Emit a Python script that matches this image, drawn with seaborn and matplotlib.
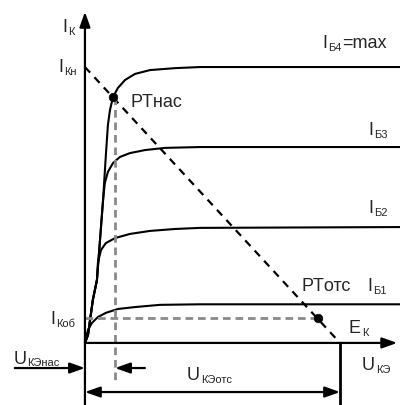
import matplotlib
matplotlib.use("Agg")
import matplotlib.pyplot as plt
import seaborn as sns
import pandas as pd

# Output characteristics of a transistor switch: U_KE on x, I_K on y
u_b4 = [0, 0.12, 0.31, 0.47, 0.59, 0.71, 0.82, 0.90, 0.98, 1.10, 1.29, 1.57, 1.96, 2.55, 3.53, 4.51, 12.4]
i_b4 = [0, 0.29, 1.56, 2.28, 3.73, 5.18, 6.81, 7.90, 8.44, 8.91, 9.24, 9.53, 9.75, 9.89, 9.96, 10.0, 10.0]

u_b3 = [0, 0.12, 0.31, 0.47, 0.59, 0.71, 0.78, 0.90, 1.10, 1.37, 1.76, 2.35, 3.14, 4.51, 12.4]
i_b3 = [0, 0.29, 1.56, 2.28, 3.73, 5.18, 5.80, 6.20, 6.52, 6.74, 6.88, 6.99, 7.07, 7.10, 7.10]

u_b2 = [0, 0.12, 0.31, 0.47, 0.51, 0.63, 0.82, 1.18, 1.76, 2.55, 3.53, 4.51, 12.4]
i_b2 = [0, 0.29, 1.56, 2.28, 2.93, 3.37, 3.62, 3.80, 3.95, 4.06, 4.13, 4.17, 4.20]

u_b1 = [0, 0.04, 0.12, 0.27, 0.51, 0.82, 1.29, 1.96, 2.94, 4.51, 12.4]
i_b1 = [0, 0.22, 0.47, 0.72, 0.94, 1.09, 1.23, 1.30, 1.38, 1.40, 1.40]

curve_names = ["Б4", "Б3", "Б2", "Б1"]

# Operating levels
E_K = 10.0        # supply voltage (load line x-intercept)
I_KN = 10.0       # saturation current (load line y-intercept)
U_SAT = 1.18      # U_KE at saturation
I_KOB = 0.90      # cut-off current
PT_SAT = (1.10, 8.90)
PT_OFF = (9.14, 0.90)

frames = []
for name, u, i in zip(curve_names, [u_b4, u_b3, u_b2, u_b1], [i_b4, i_b3, i_b2, i_b1]):
    frames.append(pd.DataFrame({"U": u, "I": i, "curve": name}))
curves = pd.concat(frames, ignore_index=True)

sns.set_style("white")
plt.rcParams["font.family"] = ["Liberation Sans", "DejaVu Sans"]
plt.rcParams["lines.scale_dashes"] = False

fig = plt.figure(figsize=(4.0, 4.05), dpi=100)
ax = fig.add_axes([0, 0, 1, 1])
ax.set_xlim(-3.33, 12.35)
ax.set_ylim(-2.25, 12.43)
ax.axis("off")

sns.lineplot(data=curves, x="U", y="I", units="curve", estimator=None, sort=False,
             color="black", lw=1.5, ax=ax, legend=False)

# Load line
ax.plot([0, E_K], [I_KN, 0], color="black", lw=1.6, dashes=(5.5, 4.5))
# Projections of the operating points
ax.plot([U_SAT, U_SAT], [PT_SAT[1], -1.34], color="#8a8a8a", lw=2.0, dashes=(5.5, 3.5))
ax.plot([0, PT_OFF[0]], [I_KOB, I_KOB], color="#8a8a8a", lw=2.0, dashes=(5.5, 3.5))

pts = pd.DataFrame({"U": [PT_SAT[0], PT_OFF[0]], "I": [PT_SAT[1], PT_OFF[1]]})
sns.scatterplot(data=pts, x="U", y="I", color="black", s=38, marker="o",
                edgecolor="black", ax=ax, zorder=5)

arrow = dict(arrowstyle="-|>,head_length=0.9,head_width=0.32", color="black",
             lw=1.6, shrinkA=0, shrinkB=0, mutation_scale=10)
# Axes
ax.annotate("", xy=(0, 12.0), xytext=(0, -2.3), arrowprops=arrow)
ax.annotate("", xy=(12.24, 0), xytext=(0, 0), arrowprops=arrow)
# E_K marker line
ax.plot([E_K, E_K], [0, -2.3], color="black", lw=2.0)
# Saturation voltage arrows
ax.annotate("", xy=(0, -0.91), xytext=(-2.75, -0.91), arrowprops=arrow)
ax.annotate("", xy=(U_SAT, -0.91), xytext=(2.35, -0.91), arrowprops=arrow)
# Cut-off voltage span
ax.annotate("", xy=(E_K, -1.78), xytext=(0, -1.78),
            arrowprops=dict(arrow, arrowstyle="<|-|>,head_length=0.9,head_width=0.32"))

MAIN = 13
SUB = 8


def label(x, y, main, sub="", tail=""):
    t = ax.text(x, y, main, fontsize=MAIN, ha="left", va="baseline")
    if sub:
        s = ax.annotate(sub, xy=(1, 0), xycoords=t, xytext=(0.6, 1.0),
                        textcoords="offset points", fontsize=SUB, va="baseline")
        if tail:
            ax.annotate(tail, xy=(1, 0), xycoords=(s, t), xytext=(0.5, 0),
                        textcoords="offset points", fontsize=MAIN, va="bottom")
    return t


label(-0.90, 11.27, "I", "К")
label(-1.06, 9.82, "I", "Кн")
label(1.80, 8.55, "PTнас")
label(9.29, 10.69, "I", "Б4", "=max")
label(11.10, 7.54, "I", "Б3")
label(11.10, 4.71, "I", "Б2")
label(8.47, 1.88, "PTотс")
label(11.06, 1.88, "I", "Б1")
label(10.35, 0.36, "E", "К")
label(10.86, -0.98, "U", "КЭ")
label(-1.37, 0.69, "I", "Коб")
label(-2.80, -0.75, "U", "КЭнас")
label(4.00, -1.34, "U", "КЭотс")

fig.savefig("out.png", dpi=100)
